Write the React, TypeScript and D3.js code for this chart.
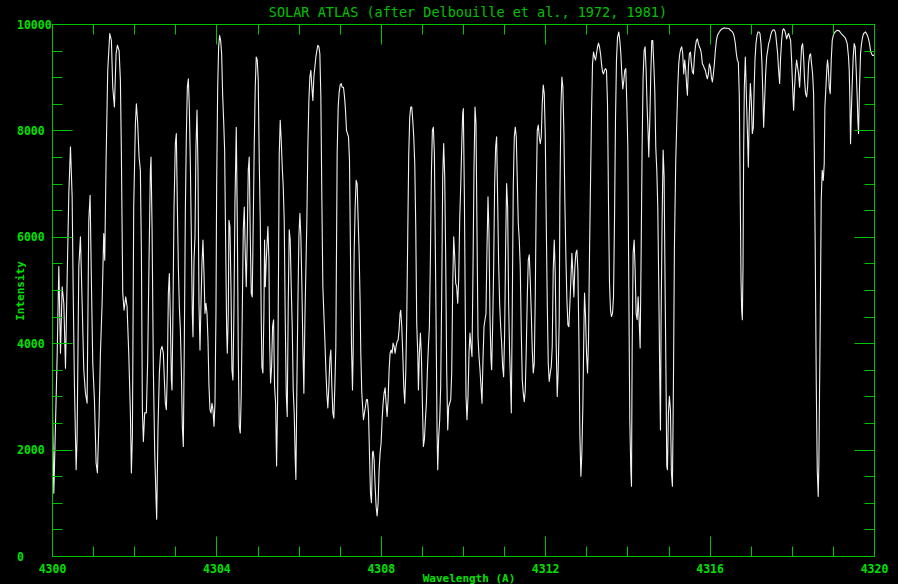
import React, { useRef, useEffect } from "react";
import * as d3 from "d3";

const W = 898;
const H = 584;

// spectrum, one array per 4 A band: [wavelength (A), intensity]
const band4300: [number, number][] = [
  [4300.000,2760],[4300.032,1190],[4300.113,3760],[4300.154,5450],[4300.194,3820],[4300.235,5070],[4300.275,4760],[4300.316,3540],[4300.356,5200],[4300.397,6820],[4300.437,7700],[4300.478,6760],[4300.502,5070],[4300.534,3200],[4300.575,1630],[4300.599,2260],[4300.640,5450],[4300.680,6010],[4300.721,4760],[4300.761,3510],[4300.802,3070],[4300.842,2880],[4300.883,6320],[4300.915,6790],[4300.947,5140],[4300.980,3630],[4301.020,2950],[4301.061,1760],[4301.093,1570],[4301.134,2630],[4301.166,3820],[4301.207,4760],[4301.247,6070],[4301.271,5570],[4301.304,7450],[4301.344,9140],[4301.393,9830],[4301.433,9700],[4301.466,8820],[4301.506,8450],[4301.547,9450],[4301.579,9610],[4301.620,9510],[4301.652,8950],[4301.676,7570],[4301.709,4950],[4301.741,4630],[4301.782,4880],[4301.814,4700],[4301.855,3820],[4301.895,2700],[4301.919,1570],[4301.944,2260],[4301.976,6570],[4302.017,8140],[4302.041,8510],[4302.073,8140],[4302.106,7510],[4302.138,7260],[4302.163,5700],[4302.187,2760],[4302.211,2160],[4302.243,2700],[4302.284,2700],[4302.316,3700],[4302.349,5570],[4302.381,7260],[4302.397,7510],[4302.422,6200],[4302.454,3510],[4302.487,1950],[4302.519,1070],[4302.535,700],[4302.568,2450],[4302.600,3450],[4302.633,3880],[4302.665,3950],[4302.697,3820],[4302.722,3320],[4302.746,2880],[4302.770,2760],[4302.795,3510],[4302.819,4950],[4302.843,5320],[4302.868,4450],[4302.892,3320],[4302.908,3130],[4302.932,4700],[4302.957,6570],[4302.989,7760],[4303.013,7950],[4303.038,6570],[4303.062,5450],[4303.086,4700],[4303.111,4260],[4303.135,3510],[4303.159,2450],[4303.183,2070],[4303.208,4070],[4303.232,6450],[4303.256,7890],[4303.281,8820],[4303.305,8980],[4303.329,8450],[4303.354,7390],[4303.378,6010],[4303.402,4570],[4303.418,4130],[4303.443,5570],[4303.467,6010],[4303.491,7700],[4303.516,8390],[4303.540,7260],[4303.564,4760],[4303.589,3880],[4303.613,4760],[4303.637,5510],[4303.661,5950],[4303.686,5320],[4303.710,4570],[4303.734,4760],[4303.759,4570],[4303.783,4070],[4303.807,3200],[4303.832,2760],[4303.856,2700],[4303.880,2880],[4303.904,2760],[4303.929,2450],[4303.953,2880],[4303.977,4570],[4303.994,6950],
];

const band4304: [number, number][] = [
  [4304.018,8760],[4304.042,9580],[4304.066,9790],[4304.091,9700],[4304.115,9450],[4304.139,8700],[4304.164,8200],[4304.188,7640],[4304.212,5950],[4304.237,4260],[4304.253,3820],[4304.277,4570],[4304.293,6320],[4304.317,6200],[4304.342,5070],[4304.366,3510],[4304.390,3320],[4304.415,4630],[4304.439,6640],[4304.455,7320],[4304.471,8070],[4304.496,6320],[4304.520,3820],[4304.544,2450],[4304.569,2320],[4304.593,3070],[4304.617,4570],[4304.642,6140],[4304.666,6570],[4304.690,5700],[4304.714,5070],[4304.739,6010],[4304.763,7260],[4304.787,7510],[4304.812,6010],[4304.836,4950],[4304.860,4880],[4304.885,6320],[4304.909,7760],[4304.933,8820],[4304.957,9390],[4304.982,9330],[4305.006,8950],[4305.030,7450],[4305.055,6320],[4305.079,4450],[4305.095,3570],[4305.119,3450],[4305.144,4570],[4305.160,5950],[4305.177,5070],[4305.201,5570],[4305.241,6200],[4305.266,5570],[4305.282,4070],[4305.306,3260],[4305.331,3570],[4305.355,4320],[4305.379,4450],[4305.403,3200],[4305.428,2880],[4305.452,1700],[4305.476,2880],[4305.501,5570],[4305.517,7570],[4305.541,8200],[4305.565,7820],[4305.590,7320],[4305.614,6950],[4305.638,6320],[4305.663,4450],[4305.687,3070],[4305.711,2630],[4305.736,4760],[4305.760,6140],[4305.784,5950],[4305.808,5070],[4305.833,4320],[4305.857,3130],[4305.881,2700],[4305.906,1820],[4305.922,1450],[4305.946,3200],[4305.970,4700],[4305.995,6010],[4306.019,6450],[4306.043,6010],[4306.068,5070],[4306.092,3950],[4306.116,3070],[4306.141,4450],[4306.165,5390],[4306.189,6320],[4306.213,7700],[4306.238,8570],[4306.262,9010],[4306.286,9140],[4306.311,8820],[4306.335,8570],[4306.359,9010],[4306.384,9200],[4306.408,9390],[4306.432,9510],[4306.456,9610],[4306.481,9580],[4306.505,9450],[4306.529,8640],[4306.554,6700],[4306.578,5070],[4306.602,4570],[4306.627,4070],[4306.651,3510],[4306.675,3070],[4306.699,2790],[4306.724,3200],[4306.748,3700],[4306.772,3880],[4306.797,3200],[4306.821,2700],[4306.845,2600],[4306.870,3200],[4306.894,3950],[4306.910,5760],[4306.926,7570],[4306.951,8450],[4306.975,8730],[4306.999,8860],[4307.024,8890],[4307.048,8820],[4307.080,8820],[4307.105,8640],[4307.129,8390],[4307.153,8010],[4307.177,7950],[4307.202,7890],[4307.226,7450],[4307.250,5700],[4307.275,3950],[4307.299,3130],[4307.315,3820],[4307.339,5700],[4307.364,6570],[4307.388,7070],[4307.412,7010],[4307.437,6320],[4307.461,5700],[4307.485,4760],[4307.501,3820],[4307.526,3070],[4307.550,2760],[4307.566,2570],[4307.590,2700],[4307.615,2820],[4307.639,2950],[4307.663,2950],[4307.688,2700],[4307.712,1950],[4307.736,1200],[4307.761,1010],[4307.785,1950],[4307.801,1980],[4307.825,1820],[4307.850,1320],[4307.874,940],[4307.898,760],[4307.923,1010],[4307.947,1630],[4307.971,1950],[4307.995,2130],
];

const band4308: [number, number][] = [
  [4308.020,2570],[4308.044,2880],[4308.068,3070],[4308.093,3170],[4308.117,2880],[4308.141,2630],[4308.166,2950],[4308.190,3510],[4308.214,3820],[4308.239,3880],[4308.263,3820],[4308.287,4010],[4308.311,3950],[4308.336,3820],[4308.360,3950],[4308.384,4040],[4308.409,4070],[4308.433,4260],[4308.457,4570],[4308.473,4630],[4308.498,4320],[4308.522,3820],[4308.546,3200],[4308.571,2880],[4308.595,3450],[4308.619,4450],[4308.644,6070],[4308.668,7570],[4308.692,8260],[4308.717,8450],[4308.741,8450],[4308.765,8200],[4308.789,7890],[4308.814,7390],[4308.838,6200],[4308.862,4380],[4308.887,3820],[4308.903,3130],[4308.927,3820],[4308.951,4200],[4308.976,3760],[4309.000,2880],[4309.024,2070],[4309.049,2200],[4309.073,2570],[4309.097,2880],[4309.122,3510],[4309.146,3950],[4309.170,4320],[4309.194,5570],[4309.219,7200],[4309.243,8010],[4309.267,8070],[4309.292,7570],[4309.316,5700],[4309.340,3820],[4309.357,2320],[4309.373,1630],[4309.397,2260],[4309.421,2570],[4309.445,3200],[4309.470,4950],[4309.494,7140],[4309.518,7760],[4309.543,7140],[4309.567,5570],[4309.591,3510],[4309.616,2380],[4309.640,2820],[4309.664,2880],[4309.689,2950],[4309.713,3450],[4309.737,5070],[4309.762,6010],[4309.786,5640],[4309.810,5140],[4309.834,5070],[4309.859,4760],[4309.883,5200],[4309.907,6320],[4309.932,6950],[4309.956,7700],[4309.980,8320],[4309.996,8420],[4310.021,6820],[4310.045,4450],[4310.061,3010],[4310.085,2570],[4310.110,3010],[4310.134,3820],[4310.158,4200],[4310.183,3950],[4310.207,3760],[4310.231,5390],[4310.256,7320],[4310.280,8450],[4310.304,8140],[4310.328,6140],[4310.353,4130],[4310.377,3760],[4310.401,3510],[4310.426,3200],[4310.450,2880],[4310.474,3700],[4310.499,4320],[4310.523,4450],[4310.547,4570],[4310.571,5760],[4310.596,6760],[4310.620,6070],[4310.644,4510],[4310.669,3700],[4310.685,3510],[4310.709,4320],[4310.733,5390],[4310.758,7010],[4310.782,7700],[4310.806,7890],[4310.831,6700],[4310.855,5510],[4310.879,4760],[4310.904,4320],[4310.928,4010],[4310.952,3570],[4310.976,3380],[4311.001,4200],[4311.025,5820],[4311.049,7010],[4311.074,6570],[4311.098,4760],[4311.122,3820],[4311.147,3200],[4311.163,2700],[4311.187,4700],[4311.211,6950],[4311.236,7890],[4311.260,8070],[4311.284,7890],[4311.309,7070],[4311.333,6260],[4311.357,5950],[4311.381,5450],[4311.406,4200],[4311.430,3320],[4311.454,3070],[4311.479,2910],[4311.503,3130],[4311.527,3880],[4311.552,4880],[4311.576,5570],[4311.600,5670],[4311.624,5200],[4311.649,4570],[4311.673,3880],[4311.697,3450],[4311.722,3630],[4311.746,4880],[4311.770,6760],[4311.795,8010],[4311.819,8110],[4311.843,7890],[4311.867,7760],[4311.892,7890],[4311.916,8510],[4311.940,8860],[4311.965,8700],[4311.989,7950],
];

const band4312: [number, number][] = [
  [4312.013,6320],[4312.038,4760],[4312.062,3630],[4312.086,3290],[4312.111,3450],[4312.135,3570],[4312.159,3950],[4312.183,5390],[4312.208,5950],[4312.232,5320],[4312.256,3950],[4312.281,3010],[4312.305,3510],[4312.329,4450],[4312.345,6700],[4312.370,8450],[4312.394,9010],[4312.418,8820],[4312.443,7950],[4312.467,6640],[4312.491,5640],[4312.516,4820],[4312.540,4350],[4312.564,4320],[4312.589,4760],[4312.613,5200],[4312.637,5700],[4312.661,5320],[4312.686,4880],[4312.710,5450],[4312.734,5700],[4312.759,5760],[4312.783,5390],[4312.807,4130],[4312.831,2320],[4312.856,1510],[4312.880,1950],[4312.904,2820],[4312.929,4260],[4312.945,4950],[4312.969,4510],[4312.993,3820],[4313.018,3450],[4313.042,4070],[4313.066,5700],[4313.091,7070],[4313.115,8320],[4313.139,9260],[4313.164,9480],[4313.188,9390],[4313.212,9330],[4313.236,9450],[4313.261,9580],[4313.285,9650],[4313.309,9580],[4313.334,9450],[4313.358,9260],[4313.382,9110],[4313.407,9070],[4313.431,9140],[4313.455,9170],[4313.479,9140],[4313.504,8510],[4313.528,6640],[4313.552,5140],[4313.577,4630],[4313.601,4510],[4313.625,4570],[4313.650,4880],[4313.674,6320],[4313.698,8200],[4313.722,9330],[4313.747,9760],[4313.779,9860],[4313.803,9700],[4313.828,9450],[4313.852,9070],[4313.876,8790],[4313.901,8950],[4313.925,9140],[4313.949,9170],[4313.974,8510],[4313.998,7700],[4314.022,5070],[4314.046,2570],[4314.071,1630],[4314.087,1320],[4314.103,3820],[4314.127,5700],[4314.152,5950],[4314.176,5390],[4314.200,4570],[4314.225,4450],[4314.249,4880],[4314.273,4450],[4314.298,3920],[4314.322,5700],[4314.346,7700],[4314.370,9010],[4314.395,9510],[4314.419,9580],[4314.443,9140],[4314.468,8450],[4314.492,7950],[4314.508,7510],[4314.533,8200],[4314.557,9070],[4314.581,9700],[4314.605,9700],[4314.630,9260],[4314.654,8760],[4314.678,7700],[4314.703,7260],[4314.727,6570],[4314.751,5070],[4314.776,3320],[4314.792,2380],[4314.808,4450],[4314.832,6320],[4314.857,7640],[4314.881,7140],[4314.905,5070],[4314.929,3200],[4314.946,1700],[4314.962,1630],[4314.986,2700],[4315.010,3010],[4315.035,2760],[4315.059,1570],[4315.083,1320],[4315.108,3260],[4315.132,5820],[4315.164,7450],[4315.213,8820],[4315.237,9260],[4315.262,9450],[4315.286,9540],[4315.310,9580],[4315.334,9450],[4315.359,9070],[4315.383,9330],[4315.407,9140],[4315.432,8820],[4315.448,8670],[4315.472,9200],[4315.496,9450],[4315.521,9480],[4315.545,9260],[4315.569,9110],[4315.594,9070],[4315.618,9390],[4315.642,9580],[4315.667,9700],[4315.691,9730],[4315.715,9640],[4315.739,9580],[4315.764,9540],[4315.788,9450],[4315.812,9260],[4315.837,9230],[4315.861,9170],[4315.885,9140],[4315.910,9040],[4315.934,8980],[4315.958,9070],[4315.982,9260],
];

const band4316: [number, number][] = [
  [4316.007,9200],[4316.031,9010],[4316.055,8920],[4316.080,9070],[4316.104,9260],[4316.128,9510],[4316.153,9700],[4316.177,9790],[4316.201,9830],[4316.225,9860],[4316.250,9890],[4316.274,9910],[4316.298,9920],[4316.323,9930],[4316.347,9940],[4316.371,9930],[4316.420,9930],[4316.468,9920],[4316.493,9890],[4316.517,9880],[4316.541,9860],[4316.566,9830],[4316.590,9760],[4316.614,9640],[4316.639,9450],[4316.663,9330],[4316.687,9290],[4316.711,8640],[4316.736,6570],[4316.752,5200],[4316.768,4630],[4316.784,4450],[4316.801,5450],[4316.817,7700],[4316.833,8820],[4316.857,9390],[4316.873,8950],[4316.890,8450],[4316.914,7820],[4316.930,7320],[4316.954,8320],[4316.979,8890],[4317.003,8570],[4317.027,7950],[4317.052,8070],[4317.068,8700],[4317.092,9330],[4317.116,9640],[4317.141,9790],[4317.165,9860],[4317.189,9860],[4317.214,9830],[4317.238,9640],[4317.262,9260],[4317.287,8570],[4317.303,8070],[4317.327,8570],[4317.351,9070],[4317.376,9390],[4317.400,9510],[4317.424,9640],[4317.449,9700],[4317.473,9790],[4317.497,9860],[4317.522,9890],[4317.546,9900],[4317.570,9890],[4317.594,9830],[4317.619,9640],[4317.643,9450],[4317.667,9140],[4317.692,8890],[4317.716,9390],[4317.740,9700],[4317.765,9890],[4317.789,9920],[4317.813,9890],[4317.837,9830],[4317.862,9730],[4317.886,9790],[4317.910,9830],[4317.935,9760],[4317.959,9700],[4317.983,9330],[4318.008,8820],[4318.032,8390],[4318.056,8820],[4318.080,9140],[4318.105,9330],[4318.129,9200],[4318.153,9070],[4318.178,8820],[4318.202,9200],[4318.226,9580],[4318.251,9640],[4318.275,9390],[4318.299,8950],[4318.323,8700],[4318.348,8640],[4318.372,8820],[4318.396,9260],[4318.421,9420],[4318.445,9450],[4318.469,9260],[4318.494,9070],[4318.518,8700],[4318.534,7700],[4318.558,5760],[4318.583,3260],[4318.607,1630],[4318.631,1130],[4318.647,1760],[4318.664,3200],[4318.680,4450],[4318.704,6700],[4318.728,7260],[4318.753,7070],[4318.777,7390],[4318.793,8450],[4318.818,8820],[4318.842,9200],[4318.858,9330],[4318.874,9200],[4318.899,8820],[4318.923,8700],[4318.947,9330],[4318.972,9700],[4318.996,9790],[4319.020,9840],[4319.044,9860],[4319.069,9880],[4319.093,9890],[4319.142,9880],[4319.190,9830],[4319.239,9790],[4319.287,9750],[4319.312,9700],[4319.336,9640],[4319.352,9510],[4319.368,9390],[4319.385,9140],[4319.401,8570],[4319.417,7760],[4319.433,8260],[4319.458,8890],[4319.482,9390],[4319.506,9640],[4319.530,9580],[4319.555,9140],[4319.579,8640],[4319.595,8200],[4319.611,7950],[4319.636,8820],[4319.660,9450],[4319.684,9640],[4319.709,9760],[4319.733,9830],[4319.757,9840],[4319.781,9860],[4319.806,9830],[4319.830,9790],[4319.854,9730],[4319.879,9640],[4319.903,9510],[4319.927,9450],[4319.952,9420],[4319.976,9420],[4320.000,9420],
];

const xMajorTicks = [4300, 4304, 4308, 4312, 4316, 4320];
const yMajorTicks = [0, 2000, 4000, 6000, 8000, 10000];

const TITLE = "SOLAR ATLAS (after Delbouille et al., 1972, 1981)";
const X_LABEL = "Wavelength (A)";
const Y_LABEL = "Intensity";

const FRAME = "#00c400";
const LABEL = "#00e000";
const FONT = "'DejaVu Sans Mono', 'Liberation Mono', monospace";

export default function App() {
  const svgRef = useRef<SVGSVGElement | null>(null);

  useEffect(() => {
    const svg = d3.select(svgRef.current);
    svg.selectAll("*").remove();

    const left = 52.5, right = 874.5, top = 24.5, bottom = 556.5;
    const x = d3.scaleLinear().domain([4300, 4320]).range([left, right]);
    const y = d3.scaleLinear().domain([0, 10000]).range([bottom, top]);

    svg.append("rect").attr("width", W).attr("height", H).attr("fill", "#000");

    const spectrum = [...band4300, ...band4304, ...band4308, ...band4312, ...band4316];

    const line = d3.line<[number, number]>()
      .x(d => x(d[0]))
      .y(d => y(d[1]));

    svg.append("path")
      .datum(spectrum)
      .attr("d", line)
      .attr("fill", "none")
      .attr("stroke", "#f2f2f2")
      .attr("stroke-width", 1.1)
      .attr("stroke-linejoin", "round");

    // frame
    svg.append("rect")
      .attr("x", left).attr("y", top)
      .attr("width", right - left).attr("height", bottom - top)
      .attr("fill", "none").attr("stroke", FRAME).attr("stroke-width", 1);

    const ticks = svg.append("g").attr("stroke", FRAME).attr("stroke-width", 1);

    // x ticks every 1 A, major every 4 A, on bottom and top
    d3.range(4300, 4321, 1).forEach(v => {
      const len = v % 4 === 0 ? 20 : 10;
      const px = Math.round(x(v) - 0.5) + 0.5;
      ticks.append("line").attr("x1", px).attr("x2", px).attr("y1", bottom).attr("y2", bottom - len);
      ticks.append("line").attr("x1", px).attr("x2", px).attr("y1", top).attr("y2", top + len);
    });

    // y ticks every 500, major every 2000, on left and right
    d3.range(0, 10001, 500).forEach(v => {
      const len = v % 2000 === 0 ? 20 : 10;
      const py = Math.round(y(v) - 0.5) + 0.5;
      ticks.append("line").attr("y1", py).attr("y2", py).attr("x1", left).attr("x2", left + len);
      ticks.append("line").attr("y1", py).attr("y2", py).attr("x1", right).attr("x2", right - len);
    });

    const labels = svg.append("g")
      .attr("fill", LABEL)
      .style("font-family", FONT)
      .style("font-weight", "bold")
      .style("font-size", "11.5px");

    xMajorTicks.forEach(v => {
      labels.append("text")
        .attr("x", x(v)).attr("y", 573)
        .attr("text-anchor", "middle")
        .text(String(v));
    });

    yMajorTicks.forEach(v => {
      labels.append("text")
        .attr("x", 17).attr("y", y(v))
        .attr("dy", "0.36em")
        .text(String(v));
    });

    labels.append("text")
      .attr("x", 469).attr("y", 582)
      .attr("text-anchor", "middle")
      .style("font-size", "11px")
      .text(X_LABEL);

    labels.append("text")
      .attr("transform", "translate(24,291) rotate(-90)")
      .attr("text-anchor", "middle")
      .style("font-size", "11px")
      .text(Y_LABEL);

    svg.append("text")
      .attr("x", 468).attr("y", 17)
      .attr("text-anchor", "middle")
      .attr("fill", "#00c000")
      .style("font-family", FONT)
      .style("font-size", "13.5px")
      .text(TITLE);
  }, []);

  return (
    <div style={{ position: "absolute", left: 0, top: 0, width: W, height: H, background: "#000" }}>
      <svg ref={svgRef} width={W} height={H} style={{ display: "block" }} />
    </div>
  );
}
